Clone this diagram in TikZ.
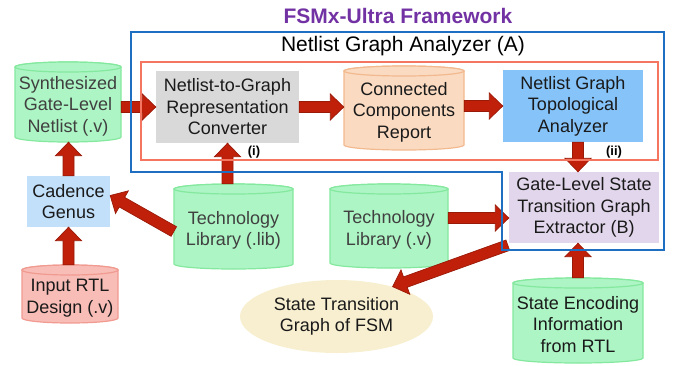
\documentclass[tikz,border=0pt]{standalone}
\usepackage{fontspec}
\setmainfont{Liberation Sans}
\usetikzlibrary{calc,shapes.geometric}
\definecolor{greenfill}{HTML}{ADF5C4}
\definecolor{greendraw}{HTML}{84E89E}
\definecolor{convfill}{HTML}{D9D9D9}
\definecolor{ccrfill}{HTML}{FADBC2}
\definecolor{ccrdraw}{HTML}{F2B98E}
\definecolor{topofill}{HTML}{86C3F8}
\definecolor{extrfill}{HTML}{E2D6EC}
\definecolor{cadfill}{HTML}{C2E0FA}
\definecolor{rtlfill}{HTML}{F9BDB7}
\definecolor{rtldraw}{HTML}{F09A90}
\definecolor{stgfill}{HTML}{F7EFCF}
\definecolor{frameblue}{HTML}{1E6FC1}
\definecolor{frameorange}{HTML}{F47560}
\definecolor{titlepurple}{HTML}{7232A3}
\definecolor{arrowred}{HTML}{C0200A}
\definecolor{arrowdark}{HTML}{9A1A08}
\definecolor{graytext}{HTML}{404040}
\definecolor{darktext}{HTML}{1A1A1A}
\tikzset{
  txt/.style={font=\fontsize{18}{21.5}\selectfont, align=center, inner sep=0pt, text=darktext},
  boxnode/.style={txt, rectangle},
  greencyl/.style={fill=greenfill, draw=greendraw, line width=1.2pt},
  ccrcyl/.style={fill=ccrfill, draw=ccrdraw, line width=1.2pt},
  rtlcyl/.style={fill=rtlfill, draw=rtldraw, line width=1.2pt},
  blockarrow/.style={fill=arrowred, draw=arrowdark, line width=0.7pt, line join=miter},
  tag/.style={font=\bfseries\fontsize{13}{15}\selectfont, inner sep=0pt, text=black}
}
% cylinder: name, x, y, w, h, style, text, text colour
\newcommand\cyl[8]{%
  \path[#6] ({#2-#4/2},{#3-#5/2+5}) -- ({#2-#4/2},{#3+#5/2-5})
     arc[start angle=180,end angle=360,x radius={0.5*#4pt},y radius=5pt]
     -- ({#2+#4/2},{#3-#5/2+5})
     arc[start angle=0,end angle=180,x radius={0.5*#4pt},y radius=5pt] -- cycle;
  \path[#6] (#2,{#3-#5/2+5}) ellipse[x radius={0.5*#4pt},y radius=5pt];
  \node[boxnode, minimum width=#4pt, minimum height=#5pt] (#1) at (#2,#3) {};
  \node[txt, text=#8] at ($(#1.center)+(0,4)$) {#7};
}
% block arrow from #1 to #2
\newcommand\barrow[2]{%
  \coordinate (ba1) at (#1);
  \coordinate (ba2) at (#2);
  \coordinate (bah) at ($(ba2)!13.5pt!(ba1)$);
  \path[blockarrow] ($(ba1)!5.5pt!90:(ba2)$) -- ($(bah)!5.5pt!90:(ba2)$)
    -- ($(bah)!13pt!90:(ba2)$) -- (ba2) -- ($(bah)!13pt!-90:(ba2)$)
    -- ($(bah)!5.5pt!-90:(ba2)$) -- ($(ba1)!5.5pt!-90:(ba2)$) -- cycle;
}
\begin{document}
\begin{tikzpicture}[x=1pt,y=-1pt]
\useasboundingbox (0,0) rectangle (674,365);

% titles
\node[font=\bfseries\fontsize{21}{24}\selectfont, text=titlepurple, inner sep=0pt] (title) at (398,16) {FSMx-Ultra Framework};
\node[font=\fontsize{21}{24}\selectfont, text=black, inner sep=0pt] (hdr) at (403,46) {Netlist Graph Analyzer (A)};

% cylinders
\cyl{syn}{68}{102}{106}{80}{greencyl}{Synthesized\\Gate-Level\\Netlist (.v)}{graytext}
\cyl{ccr}{404}{108}{120}{84}{ccrcyl}{Connected\\Components\\Report}{darktext}
\cyl{rtl}{70}{294}{96}{58}{rtlcyl}{Input RTL\\Design (.v)}{darktext}
\cyl{tlib}{233.5}{226.5}{119}{85}{greencyl}{Technology\\Library (.lib)}{graytext}
\cyl{tv}{389}{226}{118}{84}{greencyl}{Technology\\Library (.v)}{graytext}
\cyl{sei}{578}{320.5}{130}{85}{greencyl}{State Encoding\\Information\\from RTL}{darktext}

% boxes
\node[boxnode, fill=convfill, minimum width=143pt, minimum height=72pt] (conv) at (227.5,107) {Netlist-to-Graph\\Representation\\Converter};
\node[boxnode, fill=topofill, minimum width=140pt, minimum height=72pt] (topo) at (573,106) {Netlist Graph\\Topological\\Analyzer};
\node[boxnode, fill=extrfill, minimum width=150pt, minimum height=71pt] (extr) at (584,207.5) {Gate-Level State\\Transition Graph\\Extractor (B)};
\node[boxnode, fill=cadfill, minimum width=83pt, minimum height=51pt] (cad) at (68.5,201.5) {Cadence\\Genus};
\node[txt, ellipse, fill=stgfill, minimum width=193pt, minimum height=73pt] (stg) at (336.5,316.5) {State Transition\\Graph of FSM};

% tags
\node[tag] (tagi) at (254,152) {(i)};
\node[tag] (tagii) at (614,152) {(ii)};

% arrows
\barrow{syn.east |- conv.west}{conv.west}
\barrow{conv.east}{ccr.west |- conv.east}
\barrow{ccr.east |- topo.west}{topo.west}
\barrow{topo.south -| sei.north}{extr.north -| sei.north}
\barrow{sei.north}{extr.south -| sei.north}
\barrow{tlib.north -| conv.south}{conv.south}
\barrow{$(tlib.west)+(0,5)$}{$(cad.east)+(0,-6)$}
\barrow{rtl.north -| cad.south}{cad.south}
\barrow{cad.north}{syn.south -| cad.north}
\barrow{$(tv.east)+(0,-8)$}{$(extr.west)+(0,10.5)$}
\barrow{$(extr.south west)+(-1,2)$}{stg.28}

% frames
\draw[frameorange, line width=2.2pt] (141,62) rectangle (658,160);
\draw[frameblue, line width=2.8pt, line join=miter] (131,32) -- (664,32) -- (664,250) -- (502,250) -- (502,172) -- (131,172) -- cycle;
\end{tikzpicture}
\end{document}
